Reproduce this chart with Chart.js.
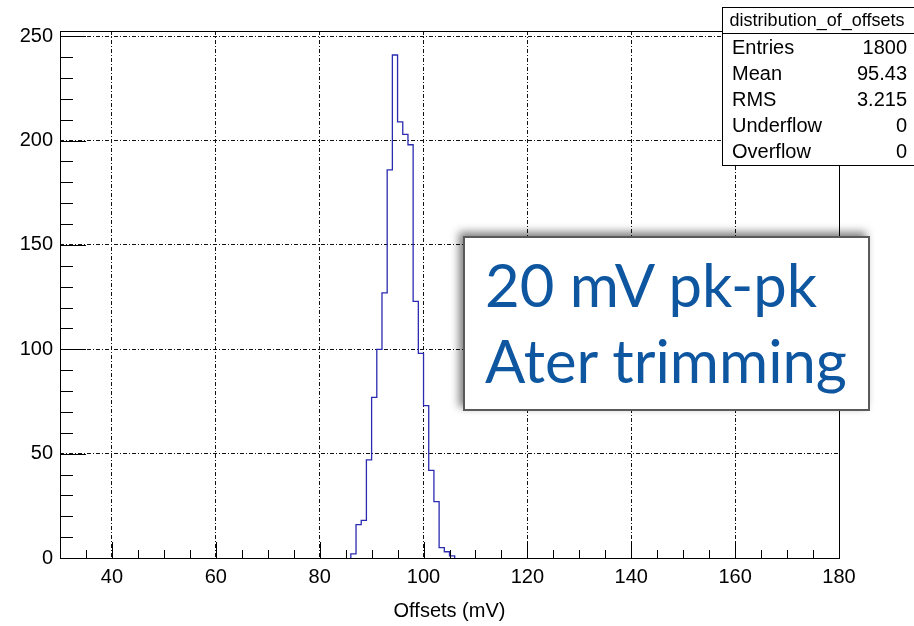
<!DOCTYPE html>
<html>
<head>
<meta charset="utf-8">
<script src="https://cdn.jsdelivr.net/npm/chart.js@4.4.0/dist/chart.umd.min.js"></script>
<style>
    html, body { margin: 0; padding: 0; background: #fff; }
    #wrap { position: relative; width: 914px; height: 626px; overflow: hidden; }
    #content { position: absolute; left: 0; top: 0; }
    #note { position: absolute; left: 0; top: 0; }
</style>
</head>
<body>
<div id="wrap">
    <canvas id="content" width="914" height="626"></canvas>
    <svg id="note" width="914" height="626">
        <defs>
            <filter id="shadow" x="-20%" y="-20%" width="140%" height="140%">
                <feDropShadow dx="-4" dy="-4" stdDeviation="4" flood-color="#000" flood-opacity="0.5"/>
            </filter>
        </defs>
        <rect x="464" y="237" width="405" height="173" fill="#fff" stroke="#5a5a5a" stroke-width="2" filter="url(#shadow)"/>
        <text id="line1" x="485" y="307" fill="#0e57a0" font-family="Lato, 'Open Sans', sans-serif" font-size="56"></text>
        <text id="line2" x="485" y="383" fill="#0e57a0" font-family="Lato, 'Open Sans', sans-serif" font-size="56"></text>
    </svg>
</div>
<script>
// histogram bins (1 mV wide, lower edge) and counts
var binLow = [86, 87, 88, 89, 90, 91, 92, 93, 94, 95, 96, 97, 98, 99, 100, 101, 102, 103, 104, 105];
var counts = [2, 16, 18, 47, 77, 100, 127, 186, 241, 209, 203, 198, 123, 98, 73, 42, 27, 5, 3, 1];
var binWidth = 1;

var xTicks = [40, 60, 80, 100, 120, 140, 160, 180];
var yTicks = [0, 50, 100, 150, 200, 250];
var xMinorStep = 5;
var yMinorStep = 10;

var statsTitle = "distribution_of_offsets";
var statsLabels = ["Entries", "Mean", "RMS", "Underflow", "Overflow"];
var statsValues = ["1800", "95.43", "3.215", "0", "0"];

var noteLines = ["20 mV pk-pk", "Ater trimming"];

var FONT = "'Liberation Sans', Arial, sans-serif";

$ = null;
document.addEventListener("DOMContentLoaded", function () {
    note();
    chart();
});

function note() {
    var l1 = document.getElementById("line1");
    var l2 = document.getElementById("line2");
    l1.textContent = noteLines[0];
    l2.textContent = noteLines[1];
    // fit the font so the second line spans like in the picture
    var w = l2.getComputedTextLength();
    var size = 56 * 362 / w;
    l1.setAttribute("font-size", size);
    l2.setAttribute("font-size", size);
}

function chart() {
    // outline of the histogram: each bin edge visited twice
    var points = [{x: binLow[0], y: 0}];
    binLow.forEach(function (b, i) {
        points.push({x: b, y: counts[i]});
        points.push({x: b + binWidth, y: counts[i]});
    });
    points.push({x: binLow[binLow.length - 1] + binWidth, y: 0});

    var rootFrame = {
        id: "rootFrame",
        afterDatasetsDraw: function (c) {
            var ctx = c.ctx, a = c.chartArea, xs = c.scales.x, ys = c.scales.y;
            ctx.save();
            ctx.strokeStyle = "#000";
            ctx.lineWidth = 1;
            ctx.beginPath();
            var v, p;
            for (v = xs.min + xMinorStep; v < xs.max; v += xMinorStep) {
                p = Math.round(xs.getPixelForValue(v)) + 0.5;
                ctx.moveTo(p, a.bottom);
                ctx.lineTo(p, a.bottom - (xTicks.indexOf(v) >= 0 ? 16 : 8));
            }
            for (v = ys.min + yMinorStep; v < ys.max; v += yMinorStep) {
                p = Math.round(ys.getPixelForValue(v)) + 0.5;
                ctx.moveTo(a.left, p);
                ctx.lineTo(a.left + (yTicks.indexOf(v) >= 0 ? 26 : 13), p);
            }
            ctx.stroke();
            ctx.strokeRect(Math.round(a.left) + 0.5, Math.round(a.top) + 0.5,
                Math.round(a.right - a.left), Math.round(a.bottom - a.top));
            ctx.restore();
        },
        afterDraw: function (c) {
            var ctx = c.ctx;
            ctx.save();
            ctx.fillStyle = "#fff";
            ctx.strokeStyle = "#000";
            ctx.lineWidth = 1;
            ctx.fillRect(722.5, 7.5, 200, 158);
            ctx.strokeRect(722.5, 7.5, 200, 158);
            ctx.beginPath();
            ctx.moveTo(722.5, 33.5);
            ctx.lineTo(914, 33.5);
            ctx.stroke();
            ctx.fillStyle = "#000";
            ctx.textBaseline = "alphabetic";
            ctx.font = "18px " + FONT;
            ctx.textAlign = "center";
            ctx.fillText(statsTitle, 817, 25.5);
            ctx.font = "20px " + FONT;
            statsLabels.forEach(function (lab, i) {
                var y = 53.5 + i * 26;
                ctx.textAlign = "left";
                ctx.fillText(lab, 732, y);
                ctx.textAlign = "right";
                ctx.fillText(statsValues[i], 907, y);
            });
            ctx.restore();
        }
    };

    var ctx = document.getElementById("content").getContext("2d");
    new Chart(ctx, {
        type: "line",
        data: {
            datasets: [{
                label: statsTitle,
                data: points,
                borderColor: "#2b2bb0",
                borderWidth: 1.3,
                pointRadius: 0,
                fill: false,
                tension: 0
            }]
        },
        options: {
            responsive: false,
            animation: false,
            layout: {padding: {left: 0, right: 75, top: 31, bottom: 0}},
            plugins: {legend: {display: false}, tooltip: {enabled: false}},
            scales: {
                x: {
                    type: "linear",
                    min: 30,
                    max: 180,
                    afterBuildTicks: function (s) {
                        s.ticks = xTicks.map(function (v) { return {value: v}; });
                    },
                    afterFit: function (s) { s.height = 68; },
                    grid: {color: "#111", lineWidth: 1, drawTicks: false},
                    border: {display: false, dash: [4, 2, 1, 2]},
                    ticks: {color: "#000", padding: 7, maxRotation: 0, font: {family: FONT, size: 20}},
                    title: {
                        display: true,
                        text: "Offsets (mV)",
                        color: "#000",
                        font: {family: FONT, size: 20},
                        padding: {top: 0, bottom: 3}
                    }
                },
                y: {
                    type: "linear",
                    min: 0,
                    max: 252.5,
                    afterBuildTicks: function (s) {
                        s.ticks = yTicks.map(function (v) { return {value: v}; });
                    },
                    afterFit: function (s) { s.width = 60; },
                    grid: {color: "#111", lineWidth: 1, drawTicks: false},
                    border: {display: false, dash: [4, 2, 1, 2]},
                    ticks: {color: "#000", padding: 7, font: {family: FONT, size: 20}}
                }
            }
        },
        plugins: [rootFrame]
    });
}
</script>
</body>
</html>
